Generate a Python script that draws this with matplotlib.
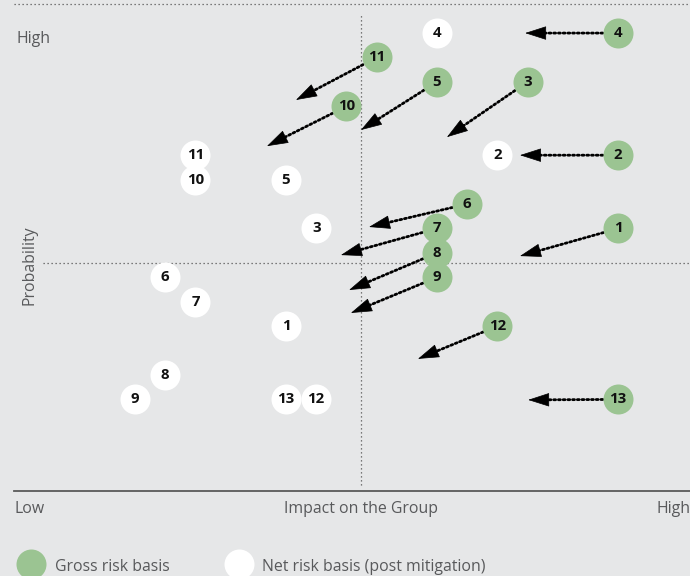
import numpy as np
import matplotlib
matplotlib.use('Agg')
import matplotlib.pyplot as plt

plt.rcParams['font.family'] = ['Open Sans', 'DejaVu Sans']

# ============================================================
# Data: risk positions (impact, probability) on a grid
# ============================================================
risk_ids = ['1', '2', '3', '4', '5', '6', '7', '8', '9', '10', '11', '12', '13']

gross_impact = [20, 20, 17, 20, 14, 15, 14, 14, 14, 11, 12, 16, 20]
gross_prob = [11, 14, 17, 19, 17, 12, 11, 10, 9, 16, 18, 7, 4]

net_impact = [9, 16, 10, 14, 9, 5, 6, 5, 4, 6, 6, 10, 9]
net_prob = [7, 14, 11, 19, 13, 9, 8, 5, 4, 13, 14, 4, 4]

# where each dotted arrow (from the gross circle) ends
arrow_impact = [16.75, 16.75, 14.33, 16.92, 11.48, 11.75, 10.82, 11.09, 11.15,
                8.37, 9.33, 13.37, 17.02]
arrow_prob = [9.87, 14.0, 14.74, 19.0, 15.03, 11.06, 9.91, 8.48, 7.54,
              14.37, 16.26, 5.66, 3.98]

X_MID = 11.5
Y_MID = 9.6

BG = '#e6e7e8'
GREEN = '#9bc492'
TXT = '#58595b'
FS = 11.4

fig = plt.figure(figsize=(6.9, 5.76), dpi=100, facecolor=BG)
ax = fig.add_axes([14.25 / 690, 1 - 491 / 576, 675.75 / 690, 487 / 576])
ax.set_facecolor(BG)
ax.set_xlim(0, 22.38)
ax.set_ylim(0.25, 20.19)
ax.set_xticks([])
ax.set_yticks([])
for s in ['left', 'right', 'top']:
    ax.spines[s].set_visible(False)
ax.spines['bottom'].set_color('#5a5a5a')
ax.spines['bottom'].set_linewidth(1.3)

dot = dict(color='#555555', lw=0.9, ls=(0, (1, 2.2)))
ax.axhline(20.19, xmin=0, xmax=1, clip_on=False, **dot)
ax.axhline(Y_MID, xmin=0.0425, xmax=1, **dot)
ax.plot([X_MID, X_MID], [0.5, 19.78], **dot)

# arrows: dotted shaft + solid head
HEAD = 14  # head length, points
R = 11     # circle radius, points
for gx, gy, tx, ty in zip(gross_impact, gross_prob, arrow_impact, arrow_prob):
    p0 = ax.transData.transform((gx, gy))
    p1 = ax.transData.transform((tx, ty))
    dist = np.hypot(*(p1 - p0)) * 72 / fig.dpi
    ax.annotate('', xy=(tx, ty), xytext=(gx, gy),
                arrowprops=dict(arrowstyle='-', color='black', lw=2.0,
                                ls=(0, (0.7, 1.0)), shrinkA=R,
                                shrinkB=HEAD - 2),
                zorder=2)
    ax.annotate('', xy=(tx, ty), xytext=(gx, gy),
                arrowprops=dict(arrowstyle='-|>,head_length=1.4,head_width=0.45',
                                mutation_scale=10, color='black', lw=0.5,
                                shrinkA=dist - HEAD + 0.5, shrinkB=0),
                zorder=2)

# circles
ms = 21.6
ax.plot(gross_impact, gross_prob, 'o', ms=ms, color=GREEN, mec='none', zorder=3)
ax.plot(net_impact, net_prob, 'o', ms=ms, color='white', mec='none', zorder=3)
for rid, x, y in zip(risk_ids, gross_impact, gross_prob):
    ax.text(x, y, rid, ha='center', va='center', fontsize=10.8,
            fontweight='bold', color='#111111', zorder=4)
for rid, x, y in zip(risk_ids, net_impact, net_prob):
    ax.text(x, y, rid, ha='center', va='center', fontsize=10.8,
            fontweight='bold', color='#111111', zorder=4)

# axis texts
ax.text(0.004, 0.928, 'High', transform=ax.transAxes, ha='left', va='center',
        fontsize=FS, color=TXT)
ax.text(0.0, -0.037, 'Low', transform=ax.transAxes, ha='left', va='center',
        fontsize=FS, color=TXT, clip_on=False)
ax.text(0.513, -0.037, 'Impact on the Group', transform=ax.transAxes,
        ha='center', va='center', fontsize=FS, color=TXT)
ax.text(0.950, -0.037, 'High', transform=ax.transAxes, ha='left', va='center',
        fontsize=FS, color=TXT)
ax.text(0.022, 0.464, 'Probability', transform=ax.transAxes, ha='center',
        va='center', rotation=90, fontsize=FS, color=TXT)

# legend
ax.plot([0.0248], [-0.150], 'o', ms=ms, color=GREEN, mec='none',
        transform=ax.transAxes, clip_on=False)
ax.text(0.0603, -0.156, 'Gross risk basis', transform=ax.transAxes,
        ha='left', va='center', fontsize=FS, color=TXT)
ax.plot([0.3326], [-0.150], 'o', ms=ms, color='white', mec='none',
        transform=ax.transAxes, clip_on=False)
ax.text(0.3666, -0.156, 'Net risk basis (post mitigation)',
        transform=ax.transAxes, ha='left', va='center', fontsize=FS,
        color=TXT)

fig.savefig('out.png', dpi=100, facecolor=BG)
